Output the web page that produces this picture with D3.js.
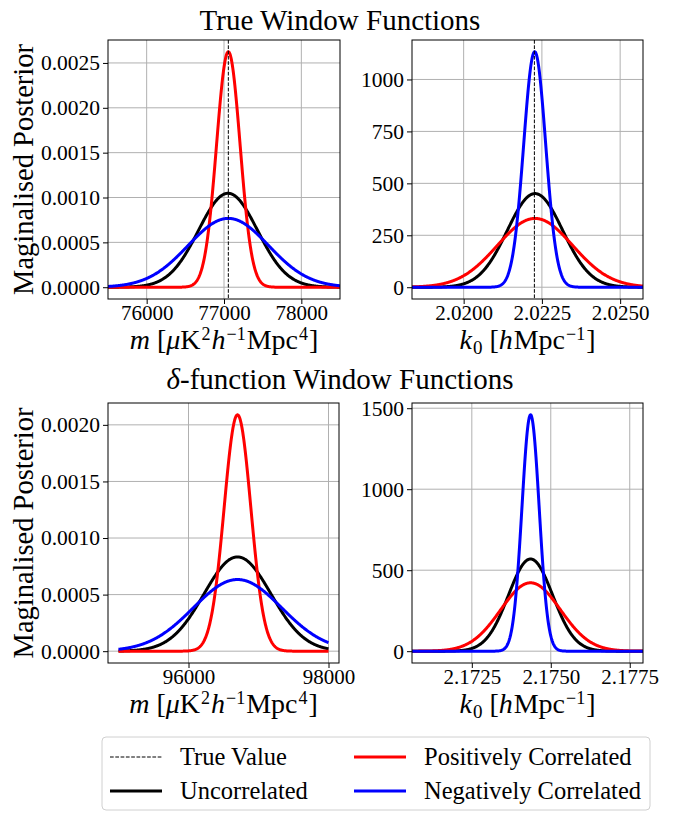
<!DOCTYPE html>
<html>
<head>
<meta charset="utf-8">
<script src="https://cdn.jsdelivr.net/npm/d3@7"></script>
<style>
  html, body { margin: 0; padding: 0; background: #fff; }
</style>
</head>
<body>
<div id="chart"></div>
<script>
// series order: Uncorrelated, Positively Correlated, Negatively Correlated
const seriesNames = ["Uncorrelated", "Positively Correlated", "Negatively Correlated"];
const seriesColors = ["#000000", "#ff0000", "#0000ff"];

// posterior centres and widths
const mTrueMeans = [77052, 77056, 77056];
const mTrueSigmas = [381, 152, 520];
const k0TrueMeans = [2.02228, 2.02228, 2.02227];
const k0TrueSigmas = [0.000885, 0.001205, 0.000352];
const mDeltaMeans = [96700, 96700, 96700];
const mDeltaSigmas = [479, 191, 630];
const k0DeltaMeans = [2.17436, 2.17436, 2.17436];
const k0DeltaSigmas = [0.000701, 0.000945, 0.0002734];

const trueValues = [77056, 2.02226];

const mTrueTicks = [76000, 77000, 78000];
const k0TrueTicks = [2.0200, 2.0225, 2.0250];
const mDeltaTicks = [96000, 98000];
const k0DeltaTicks = [2.1725, 2.1750, 2.1775];
const mTrueYTicks = [0, 0.0005, 0.0010, 0.0015, 0.0020, 0.0025];
const k0TrueYTicks = [0, 250, 500, 750, 1000];
const mDeltaYTicks = [0, 0.0005, 0.0010, 0.0015, 0.0020];
const k0DeltaYTicks = [0, 500, 1000, 1500];

const W = 683, H = 814;
const FONT = "'Liberation Serif', 'DejaVu Serif', serif";

const svg = d3.select("#chart").append("svg")
    .attr("width", W)
    .attr("height", H)
    .style("font-family", FONT);

const panels = [
  {box: [108, 40, 340, 299], xlim: [75500, 78500], range: [75500, 78500],
   means: mTrueMeans, sigmas: mTrueSigmas, xTicks: mTrueTicks, yTicks: mTrueYTicks,
   xFmt: d3.format("d"), yFmt: d3.format(".4f"), truth: trueValues[0], label: "m", ylabel: true},
  {box: [412, 40, 643, 299], xlim: [2.01835, 2.02573], range: [2.01835, 2.02573],
   means: k0TrueMeans, sigmas: k0TrueSigmas, xTicks: k0TrueTicks, yTicks: k0TrueYTicks,
   xFmt: d3.format(".4f"), yFmt: d3.format("d"), truth: trueValues[1], label: "k", ylabel: false},
  {box: [108, 403, 339, 663], xlim: null, range: [95000, 98000],
   means: mDeltaMeans, sigmas: mDeltaSigmas, xTicks: mDeltaTicks, yTicks: mDeltaYTicks,
   xFmt: d3.format("d"), yFmt: d3.format(".4f"), truth: null, label: "m", ylabel: true},
  {box: [412, 403, 643, 663], xlim: [2.170606, 2.17792], range: [2.170606, 2.17792],
   means: k0DeltaMeans, sigmas: k0DeltaSigmas, xTicks: k0DeltaTicks, yTicks: k0DeltaYTicks,
   xFmt: d3.format(".4f"), yFmt: d3.format("d"), truth: null, label: "k", ylabel: false}
];

function gauss(x, mu, s) {
  return Math.exp(-0.5 * ((x - mu) / s) ** 2) / (s * Math.sqrt(2 * Math.PI));
}

panels.forEach((p, pi) => {
  const [x0, y0, x1, y1] = p.box;

  // sample each posterior over the plotted range
  const curves = p.means.map((mu, i) => {
    const xs = d3.range(0, 601).map(j => p.range[0] + (p.range[1] - p.range[0]) * j / 600);
    return xs.map(x => [x, gauss(x, mu, p.sigmas[i])]);
  });

  const ymax = d3.max(curves, c => d3.max(c, d => d[1]));
  let xdom = p.xlim;
  if (!xdom) {
    const pad = (p.range[1] - p.range[0]) * 0.05;
    xdom = [p.range[0] - pad, p.range[1] + pad];
  }
  const x = d3.scaleLinear().domain(xdom).range([x0, x1]);
  const y = d3.scaleLinear().domain([-0.05 * ymax, 1.05 * ymax]).range([y1, y0]);

  const g = svg.append("g");

  // grid
  g.append("g").selectAll("line").data(p.xTicks).join("line")
      .attr("x1", d => x(d)).attr("x2", d => x(d))
      .attr("y1", y0).attr("y2", y1)
      .attr("stroke", "#b0b0b0").attr("stroke-width", 1);
  g.append("g").selectAll("line").data(p.yTicks).join("line")
      .attr("x1", x0).attr("x2", x1)
      .attr("y1", d => y(d)).attr("y2", d => y(d))
      .attr("stroke", "#b0b0b0").attr("stroke-width", 1);

  const clipId = "clip" + pi;
  svg.append("clipPath").attr("id", clipId)
    .append("rect").attr("x", x0).attr("y", y0).attr("width", x1 - x0).attr("height", y1 - y0);

  const line = d3.line().x(d => x(d[0])).y(d => y(d[1]));
  const plot = g.append("g").attr("clip-path", `url(#${clipId})`);
  curves.forEach((c, i) => {
    plot.append("path")
        .attr("d", line(c))
        .attr("fill", "none")
        .attr("stroke", seriesColors[i])
        .attr("stroke-width", 3)
        .attr("stroke-linejoin", "round");
  });

  if (p.truth != null) {
    plot.append("line")
        .attr("x1", x(p.truth)).attr("x2", x(p.truth))
        .attr("y1", y0).attr("y2", y1)
        .attr("stroke", "#000")
        .attr("stroke-width", 1)
        .attr("stroke-dasharray", "3.7,1.6");
  }

  // axes
  const xAxis = d3.axisBottom(x).tickValues(p.xTicks).tickFormat(p.xFmt).tickSize(5).tickPadding(1);
  const yAxis = d3.axisLeft(y).tickValues(p.yTicks).tickFormat(p.yFmt).tickSize(5).tickPadding(3);
  const gx = g.append("g").attr("transform", `translate(0,${y1})`).call(xAxis);
  const gy = g.append("g").attr("transform", `translate(${x0},0)`).call(yAxis);
  gx.attr("font-size", 21);
  gy.attr("font-size", 21.5);
  [gx, gy].forEach(a => {
    a.attr("font-family", FONT);
    a.select(".domain").remove();
    a.selectAll("text").attr("fill", "#000");
    a.selectAll("line").attr("stroke", "#000");
  });

  g.append("rect")
      .attr("x", x0).attr("y", y0).attr("width", x1 - x0).attr("height", y1 - y0)
      .attr("fill", "none").attr("stroke", "#000").attr("stroke-width", 1);

  // x label with math-style pieces
  const xl = g.append("text")
      .attr("x", (x0 + x1) / 2)
      .attr("y", y1 + 50)
      .attr("text-anchor", "middle")
      .attr("font-size", 28);
  if (p.label === "m") {
    xl.append("tspan").attr("font-style", "italic").text("m");
    xl.append("tspan").text(" [");
    xl.append("tspan").attr("font-style", "italic").text("μ");
    xl.append("tspan").text("K");
    xl.append("tspan").attr("dx", 1).attr("dy", -9).attr("font-size", 18).text("2");
    xl.append("tspan").attr("dx", 1).attr("dy", 9).attr("font-style", "italic").text("h");
    xl.append("tspan").attr("dx", 1).attr("dy", -9).attr("font-size", 18).text("−1");
    xl.append("tspan").attr("dx", 1).attr("dy", 9).text("Mpc");
    xl.append("tspan").attr("dx", 1).attr("dy", -9).attr("font-size", 18).text("4");
    xl.append("tspan").attr("dx", 1).attr("dy", 9).text("]");
  } else {
    xl.append("tspan").attr("font-style", "italic").text("k");
    xl.append("tspan").attr("dx", 1).attr("dy", 5).attr("font-size", 19).text("0");
    xl.append("tspan").attr("dy", -5).text(" [");
    xl.append("tspan").attr("font-style", "italic").text("h");
    xl.append("tspan").attr("dx", 1).text("Mpc");
    xl.append("tspan").attr("dx", 1).attr("dy", -9).attr("font-size", 18).text("−1");
    xl.append("tspan").attr("dx", 1).attr("dy", 9).text("]");
  }

  if (p.ylabel) {
    g.append("text")
        .attr("transform", `translate(33,${(y0 + y1) / 2}) rotate(-90)`)
        .attr("text-anchor", "middle")
        .attr("font-size", 28.5)
        .text("Maginalised Posterior");
  }
});

// row titles
svg.append("text")
    .attr("x", 340).attr("y", 30)
    .attr("text-anchor", "middle")
    .attr("font-size", 29)
    .text("True Window Functions");
const t2 = svg.append("text")
    .attr("x", 340).attr("y", 389)
    .attr("text-anchor", "middle")
    .attr("font-size", 29);
t2.append("tspan").attr("font-style", "italic").text("δ");
t2.append("tspan").text("-function Window Functions");

// legend
const legend = svg.append("g");
legend.append("rect")
    .attr("x", 102).attr("y", 737).attr("width", 548).attr("height", 73)
    .attr("rx", 4)
    .attr("fill", "#fff").attr("stroke", "#d0d0d0").attr("stroke-width", 1);

const legendItems = [
  {label: "True Value", color: "#000", dash: "3.7,1.6", width: 1, col: 0, row: 0},
  {label: seriesNames[0], color: seriesColors[0], dash: null, width: 3, col: 0, row: 1},
  {label: seriesNames[1], color: seriesColors[1], dash: null, width: 3, col: 1, row: 0},
  {label: seriesNames[2], color: seriesColors[2], dash: null, width: 3, col: 1, row: 1}
];
const colX = [110, 354];
const rowY = [757, 791];
legendItems.forEach(it => {
  const lx = colX[it.col], ly = rowY[it.row];
  legend.append("line")
      .attr("x1", lx).attr("x2", lx + 52)
      .attr("y1", ly).attr("y2", ly)
      .attr("stroke", it.color)
      .attr("stroke-width", it.width)
      .attr("stroke-dasharray", it.dash);
  legend.append("text")
      .attr("x", lx + 70).attr("y", ly + 8)
      .attr("font-size", 24.5)
      .text(it.label);
});
</script>
</body>
</html>
